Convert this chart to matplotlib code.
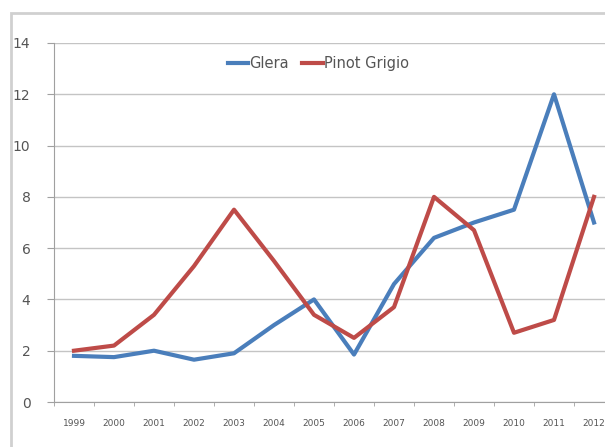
import numpy as np
import matplotlib
matplotlib.use('Agg')
import matplotlib.pyplot as plt
from matplotlib.patches import Rectangle

# data
years = ['1999', '2000', '2001', '2002', '2003', '2004', '2005',
         '2006', '2007', '2008', '2009', '2010', '2011', '2012']
glera = [1.8, 1.75, 2.0, 1.65, 1.9, 3.0, 4.0, 1.85, 4.6, 6.4, 7.0, 7.5, 12.0, 7.0]
pinot = [2.0, 2.2, 3.4, 5.3, 7.5, 5.5, 3.4, 2.5, 3.7, 8.0, 6.7, 2.7, 3.2, 8.0]
y_ticks = [0, 2, 4, 6, 8, 10, 12, 14]

W, H = 605, 447
fig = plt.figure(figsize=(W / 100, H / 100), dpi=100)
fig.patch.set_facecolor('white')

# outer chart border (Excel style)
fig.patches.append(Rectangle((11 / W, -0.02), 1.0, 1 - 13 / H + 0.02,
                             transform=fig.transFigure, fill=False,
                             edgecolor='#d0d0d0', linewidth=2))

left, right = 54, 614
top, bottom = 43, 402
ax = fig.add_axes([left / W, 1 - bottom / H, (right - left) / W, (bottom - top) / H])
ax.set_facecolor('none')

x = np.arange(len(years))
ax.plot(x, glera, color='#4a7ebb', linewidth=3.0, label='Glera')
ax.plot(x, pinot, color='#be4b48', linewidth=3.0, label='Pinot Grigio')

ax.set_xlim(-0.5, len(years) - 0.5)
ax.set_ylim(0, 14)
ax.set_yticks(y_ticks)
ax.set_yticklabels([str(t) for t in y_ticks])
ax.yaxis.grid(True, color='#c4c4c4', linewidth=1)
ax.set_axisbelow(True)

ax.set_xticks(x)
ax.set_xticklabels(years)
ax.set_xticks(np.arange(-0.5, len(years) + 0.5, 1), minor=True)
ax.tick_params(axis='x', which='major', length=0, pad=12, labelsize=6.5, colors='#555555')
ax.tick_params(axis='x', which='minor', length=3, color='#a0a0a0', direction='out')
ax.tick_params(axis='y', length=5, color='#a0a0a0', labelsize=10, colors='#555555', pad=12)

for s in ['top', 'right']:
    ax.spines[s].set_visible(False)
ax.spines['left'].set_color('#a0a0a0')
ax.spines['bottom'].set_color('#a0a0a0')

leg = ax.legend(loc='upper center', bbox_to_anchor=(0.472, 1.0), ncol=2, frameon=False,
                fontsize=10.5, handlelength=1.4, handletextpad=0.1, columnspacing=0.9)
for t in leg.get_texts():
    t.set_color('#555555')

fig.savefig('out.png', dpi=100)
